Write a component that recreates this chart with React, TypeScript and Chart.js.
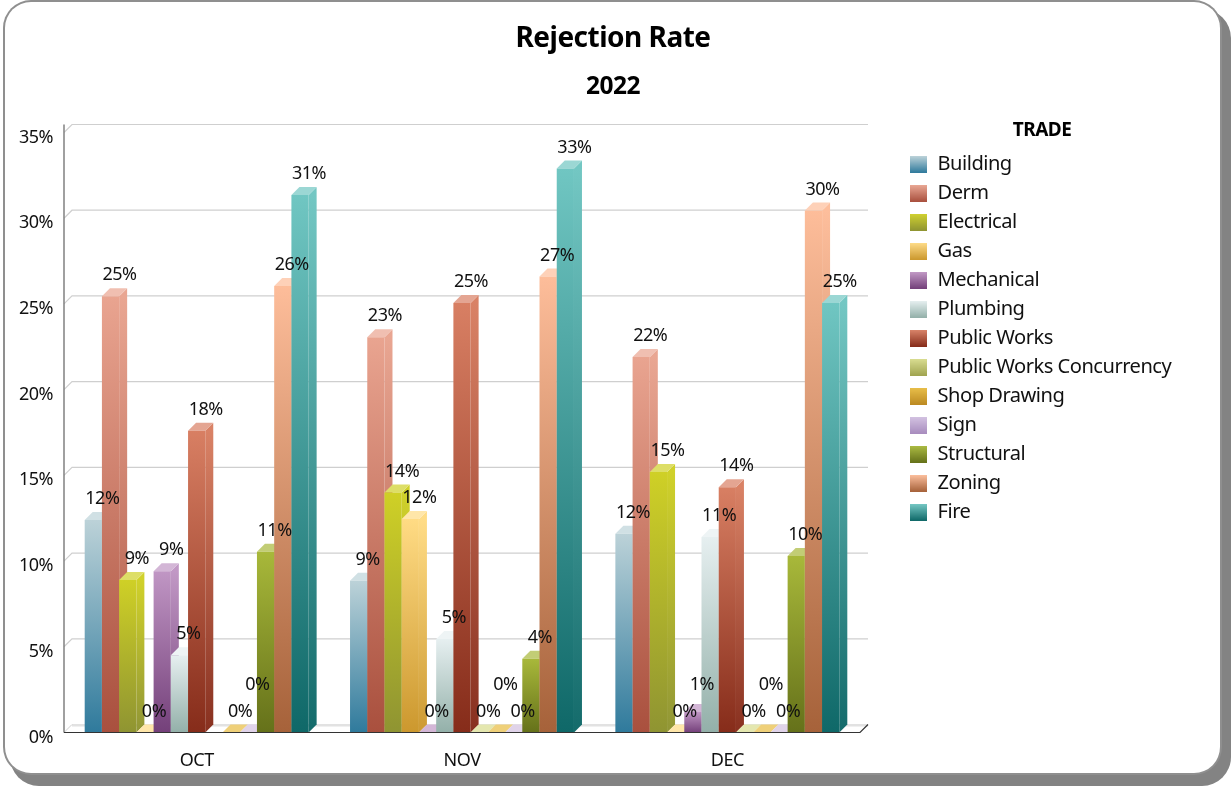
import React, { useEffect, useRef } from "react";
import { Chart, registerables } from "chart.js";

Chart.register(...registerables);

const categories = ["OCT", "NOV", "DEC"];
const trades = ["Building", "Derm", "Electrical", "Gas", "Mechanical", "Plumbing", "Public Works", "Public Works Concurrency", "Shop Drawing", "Sign", "Structural", "Zoning", "Fire"];

const building = [12.4, 8.85, 11.6];
const derm = [25.45, 23.05, 21.9];
const electrical = [8.9, 14.0, 15.2];
const gas = [0, 12.45, 0];
const mechanical = [9.4, 0, 1.2];
const plumbing = [4.5, 5.45, 11.4];
const publicWorks = [17.6, 25.05, 14.3];
const publicWorksConcurrency = [null, 0, 0];
const shopDrawing = [0, 0, 0];
const sign = [0, 0, 0];
const structural = [10.55, 4.3, 10.3];
const zoning = [26.05, 26.6, 30.45];
const fire = [31.35, 32.9, 25.05];

const seriesValues = [building, derm, electrical, gas, mechanical, plumbing, publicWorks, publicWorksConcurrency, shopDrawing, sign, structural, zoning, fire];

const topColors = ["#bcd2d8", "#e9a490", "#cfd026", "#ffdb84", "#c096c4", "#e6eff0", "#d87f63", "#d8dc8c", "#e8bc40", "#d2c0e0", "#a8b83a", "#fdbd9a", "#70c6c2"];
const bottomColors = ["#2f7a9c", "#a9503e", "#8f9432", "#cc982e", "#74407a", "#93b0a9", "#862c1a", "#a0a450", "#bc8a22", "#a88cbe", "#65711a", "#a6623a", "#0f6868"];

const DEPTH = 8;
const FONT = "'Noto Sans', sans-serif";
const TEXT = "#111111";
const TRACKING = "-0.5px";

function mix(hex: string, target: number, amount: number) {
  const n = parseInt(hex.slice(1), 16);
  const c = [(n >> 16) & 255, (n >> 8) & 255, n & 255].map((v) => Math.round(v + (target - v) * amount));
  return `rgb(${c[0]},${c[1]},${c[2]})`;
}

function vertical(ctx: CanvasRenderingContext2D, y0: number, y1: number, a: string, b: string) {
  const g = ctx.createLinearGradient(0, y0, 0, Math.max(y1, y0 + 1));
  g.addColorStop(0, a);
  g.addColorStop(1, b);
  return g;
}

function swatch(i: number) {
  const c = document.createElement("canvas");
  c.width = 17;
  c.height = 17;
  const x = c.getContext("2d")!;
  x.fillStyle = vertical(x, 0, 17, mix(topColors[i], 255, 0.05), bottomColors[i]);
  x.fillRect(0, 0, 17, 17);
  return c;
}

const scene = {
  id: "scene3d",
  beforeLayout(chart: any) {
    (chart.ctx as any).letterSpacing = TRACKING;
    const l = chart.legend;
    if (l && !l.__patched) {
      l.__patched = true;
      const fit = l.fit;
      l.fit = function () {
        fit.call(this);
        this.width = 366;
      };
    }
  },
  afterLayout(chart: any) {
    const l = chart.legend;
    l.left = 899.6;
    l.width = 285;
    l.right = l.left + l.width;
    const h = l.height;
    l.top = 116;
    l.bottom = l.top + h;
  },
  beforeDraw(chart: any) {
    (chart.ctx as any).letterSpacing = TRACKING;
  },
  beforeDatasetDraw() {
    return false;
  },
  beforeDatasetsDraw(chart: any) {
    const ctx = chart.ctx as CanvasRenderingContext2D;
    const { left, right, bottom } = chart.chartArea;
    const y = chart.scales.y;
    ctx.save();
    ctx.strokeStyle = "#cfcfcf";
    ctx.lineWidth = 1.2;
    y.ticks.forEach((t: any) => {
      const py = y.getPixelForValue(t.value);
      if (t.value === 0) return;
      ctx.beginPath();
      ctx.moveTo(left, py);
      ctx.lineTo(left + DEPTH, py - DEPTH);
      ctx.lineTo(right + DEPTH, py - DEPTH);
      ctx.stroke();
    });
    ctx.strokeStyle = "#e2e2e2";
    ctx.lineWidth = 2.4;
    ctx.beginPath();
    ctx.moveTo(left + DEPTH, bottom - DEPTH + 0.8);
    ctx.lineTo(right + DEPTH, bottom - DEPTH + 0.8);
    ctx.stroke();
    ctx.strokeStyle = "#cfcfcf";
    ctx.lineWidth = 1;
    ctx.beginPath();
    ctx.moveTo(left, bottom);
    ctx.lineTo(left + DEPTH, bottom - DEPTH);
    ctx.stroke();
    ctx.restore();

    chart.data.datasets.forEach((ds: any, i: number) => {
      const meta = chart.getDatasetMeta(i);
      meta.data.forEach((el: any, j: number) => {
        if (ds.data[j] === null) return;
        const p = el.getProps(["x", "y", "base", "width"], true);
        const l = p.x - p.width / 2;
        const r = p.x + p.width / 2;
        ctx.save();
        ctx.fillStyle = vertical(ctx, p.y, p.base, mix(topColors[i], 255, 0.02), mix(bottomColors[i], 255, 0.02));
        ctx.beginPath();
        ctx.moveTo(r, p.y);
        ctx.lineTo(r + DEPTH, p.y - DEPTH);
        ctx.lineTo(r + DEPTH, p.base - DEPTH);
        ctx.lineTo(r, p.base);
        ctx.closePath();
        ctx.fill();
        ctx.fillStyle = mix(topColors[i], 255, 0.3);
        ctx.beginPath();
        ctx.moveTo(l, p.y);
        ctx.lineTo(l + DEPTH, p.y - DEPTH);
        ctx.lineTo(r + DEPTH, p.y - DEPTH);
        ctx.lineTo(r, p.y);
        ctx.closePath();
        ctx.fill();
        ctx.restore();
      });
      meta.controller.draw();
    });
  },
  afterDatasetsDraw(chart: any) {
    const ctx = chart.ctx as CanvasRenderingContext2D;
    const { left, right, top, bottom } = chart.chartArea;
    ctx.save();
    ctx.strokeStyle = "#808080";
    ctx.lineWidth = 1.5;
    ctx.beginPath();
    ctx.moveTo(left, top - DEPTH);
    ctx.lineTo(left, bottom);
    ctx.stroke();
    ctx.strokeStyle = "#333333";
    ctx.lineWidth = 1.2;
    ctx.beginPath();
    ctx.moveTo(left, bottom);
    ctx.lineTo(right, bottom);
    ctx.lineTo(right + DEPTH, bottom - DEPTH);
    ctx.stroke();

    ctx.font = `18px ${FONT}`;
    ctx.fillStyle = TEXT;
    ctx.textAlign = "center";
    ctx.textBaseline = "middle";
    categories.forEach((_, c) => {
      const placed: { x: number; y: number; w: number }[] = [];
      chart.data.datasets.forEach((ds: any, i: number) => {
        const el = chart.getDatasetMeta(i).data[c];
        const v = ds.data[c];
        if (v === null) return;
        const text = `${Math.round(v)}%`;
        const w = ctx.measureText(text).width;
        const x = el.x + 9;
        let y = el.y - 21;
        for (const o of placed) {
          if (Math.abs(o.x - x) < (o.w + w) / 2 && Math.abs(o.y - y) < 24) y = o.y - 27;
        }
        placed.push({ x, y, w });
        ctx.fillText(text, x, y);
      });
    });
    ctx.restore();
  },
};

export default function App() {
  const ref = useRef<HTMLCanvasElement>(null);
  useEffect(() => {
    const chart = new Chart(ref.current!, {
      type: "bar",
      data: {
        labels: categories,
        datasets: trades.map((label, i) => ({
          label,
          data: seriesValues[i],
          categoryPercentage: 0.844,
          barPercentage: 1,
          backgroundColor: (c: any) => {
            const y = c.chart.scales?.y;
            if (!y || c.raw === undefined || c.raw === null) return topColors[i];
            return vertical(c.chart.ctx, y.getPixelForValue(c.raw), y.getPixelForValue(0), topColors[i], bottomColors[i]);
          },
        })),
      },
      options: {
        responsive: false,
        animation: false,
        layout: { padding: { left: 0, right: 5, top: 0, bottom: 0 } },
        scales: {
          x: {
            grid: { display: false, drawTicks: false },
            border: { display: false },
            ticks: { color: TEXT, padding: 17.5, font: { family: FONT, size: 18 } },
            afterFit: (s: any) => { s.height = 53.5; },
          },
          y: {
            min: 0,
            max: 35,
            grid: { display: false, drawTicks: false },
            border: { display: false },
            ticks: {
              stepSize: 5,
              color: TEXT,
              padding: 11,
              labelOffset: 5,
              font: { family: FONT, size: 18 },
              callback: (v: any) => `${v}%`,
            },
            afterFit: (s: any) => { s.width = 64; },
          },
        },
        plugins: {
          title: {
            display: true,
            text: "Rejection Rate",
            color: "#000000",
            font: { family: FONT, size: 28, weight: "bold" },
            padding: { top: 22.2, bottom: 8 },
          },
          subtitle: {
            display: true,
            text: "2022",
            color: "#000000",
            font: { family: FONT, size: 24.5, weight: "bold" },
            padding: { top: 8.5, bottom: 30.8 },
          },
          tooltip: { enabled: false },
          legend: {
            position: "right",
            align: "start",
            title: {
              display: true,
              text: "TRADE",
              color: "#000000",
              font: { family: FONT, size: 19, weight: "bold" },
              padding: { top: 5, bottom: 1.5 },
            },
            labels: {
              usePointStyle: true,
              pointStyleWidth: 19,
              color: TEXT,
              padding: 8.9,
              font: { family: FONT, size: 20.1 },
              generateLabels: (c: any) =>
                c.data.datasets.map((d: any, i: number) => ({
                  text: d.label,
                  datasetIndex: i,
                  pointStyle: swatch(i),
                  fontColor: TEXT,
                  hidden: false,
                })),
            },
          },
        },
      } as any,
      plugins: [scene as any],
    });
    return () => chart.destroy();
  }, []);

  return (
    <div style={{ position: "fixed", left: 0, top: 0, width: 1231, height: 786, overflow: "hidden", background: "#ffffff" }}>
      <div
        style={{
          position: "absolute",
          left: 5,
          top: 2,
          width: 1215,
          height: 771,
          borderRadius: 26,
          background: "#ffffff",
          boxShadow: "0 0 0 2px #8f8f8f, 8px 10px 0 3px #838383",
        }}
      />
      <canvas ref={ref} width={1231} height={786} style={{ position: "absolute", left: 0, top: 0, display: "block" }} />
    </div>
  );
}
